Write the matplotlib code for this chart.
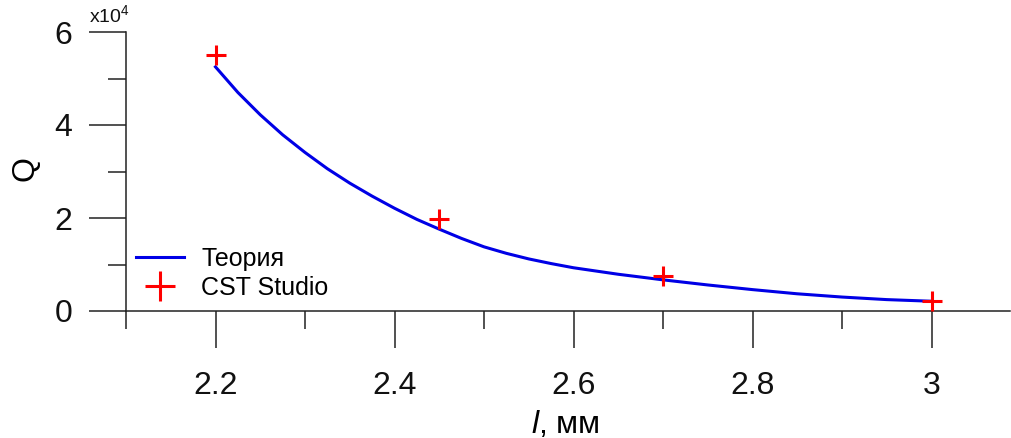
import matplotlib
matplotlib.use("Agg")
import matplotlib.pyplot as plt
from matplotlib.ticker import MultipleLocator, FixedLocator

plt.rcParams['font.family'] = ['Liberation Sans', 'DejaVu Sans']
plt.rcParams['mathtext.fontset'] = 'custom'
plt.rcParams['mathtext.rm'] = 'Liberation Sans'
plt.rcParams['mathtext.it'] = 'Liberation Sans:italic'

# Theory curve (Q in units of 1e4)
theory_l = [2.200, 2.225, 2.250, 2.275, 2.300, 2.325, 2.350, 2.375, 2.400, 2.425, 2.450,
            2.475, 2.500, 2.525, 2.550, 2.575, 2.600, 2.625, 2.650, 2.675, 2.700,
            2.750, 2.800, 2.850, 2.900, 2.950, 3.000]
theory_q = [5.25, 4.70, 4.22, 3.79, 3.41, 3.06, 2.75, 2.47, 2.21, 1.97, 1.76,
            1.56, 1.38, 1.24, 1.12, 1.02, 0.93, 0.86, 0.79, 0.73, 0.67,
            0.56, 0.46, 0.37, 0.30, 0.245, 0.21]

# CST Studio simulation points
cst_l = [2.20, 2.45, 2.70, 3.00]
cst_q = [5.50, 1.97, 0.75, 0.21]

xticks = [2.2, 2.4, 2.6, 2.8, 3.0]
xticklabels = ['2.2', '2.4', '2.6', '2.8', '3']
yticks = [0, 2, 4, 6]

W, H = 1011, 438
fig = plt.figure(figsize=(W / 100, H / 100), dpi=100)
ax_l, ax_r, ax_b, ax_t = 126, 1010, 311, 32
ax = fig.add_axes([ax_l / W, (H - ax_b) / H, (ax_r - ax_l) / W, (ax_b - ax_t) / H])

ax.plot(theory_l, theory_q, color='#0000e6', lw=2.2, label='Теория', zorder=3,
        solid_joinstyle='round')
ax.plot(cst_l, cst_q, linestyle='none', marker='+', color='#ff0000', ms=14, mew=2.2,
        label='CST Studio', zorder=4)

ax.set_xlim(2.1, 2.1 + (ax_r - ax_l) / 895.0)
ax.set_ylim(0, 6)

for s in ['top', 'right']:
    ax.spines[s].set_visible(False)
for s in ['left', 'bottom']:
    ax.spines[s].set_linewidth(1.1)
    ax.spines[s].set_color('#222222')

ax.xaxis.set_major_locator(FixedLocator(xticks))
ax.set_xticklabels(xticklabels)
ax.xaxis.set_minor_locator(FixedLocator([2.1, 2.3, 2.5, 2.7, 2.9]))
ax.yaxis.set_major_locator(FixedLocator(yticks))
ax.yaxis.set_minor_locator(MultipleLocator(1))

ax.tick_params(which='major', direction='out', length=26.5, width=1.1, color='#222222',
               labelsize=23, labelcolor='#111111')
ax.tick_params(which='minor', direction='out', length=13, width=1.1, color='#222222')
ax.tick_params(axis='x', which='major', pad=17)
ax.tick_params(axis='y', which='major', pad=12)

ax.set_ylabel('Q', fontsize=23)
ax.yaxis.set_label_coords(-0.097, 0.51)
ax.set_xlabel(r'$\it{l}$, мм', fontsize=23)
ax.xaxis.set_label_coords(0.497, -0.35)

fig.text(89 / W, 1 - 22 / H, r'x10$^{4}$', fontsize=14, ha='left', va='baseline', color='#111111')

leg = ax.legend(loc='upper left', bbox_to_anchor=(10 / (ax_r - ax_l), (ax_b - 247) / (ax_b - ax_t)),
                frameon=False, fontsize=18, handlelength=1.9, handletextpad=0.7,
                labelspacing=0.2, markerscale=1.55, borderaxespad=0, borderpad=0)

fig.savefig('out.png', dpi=100)
